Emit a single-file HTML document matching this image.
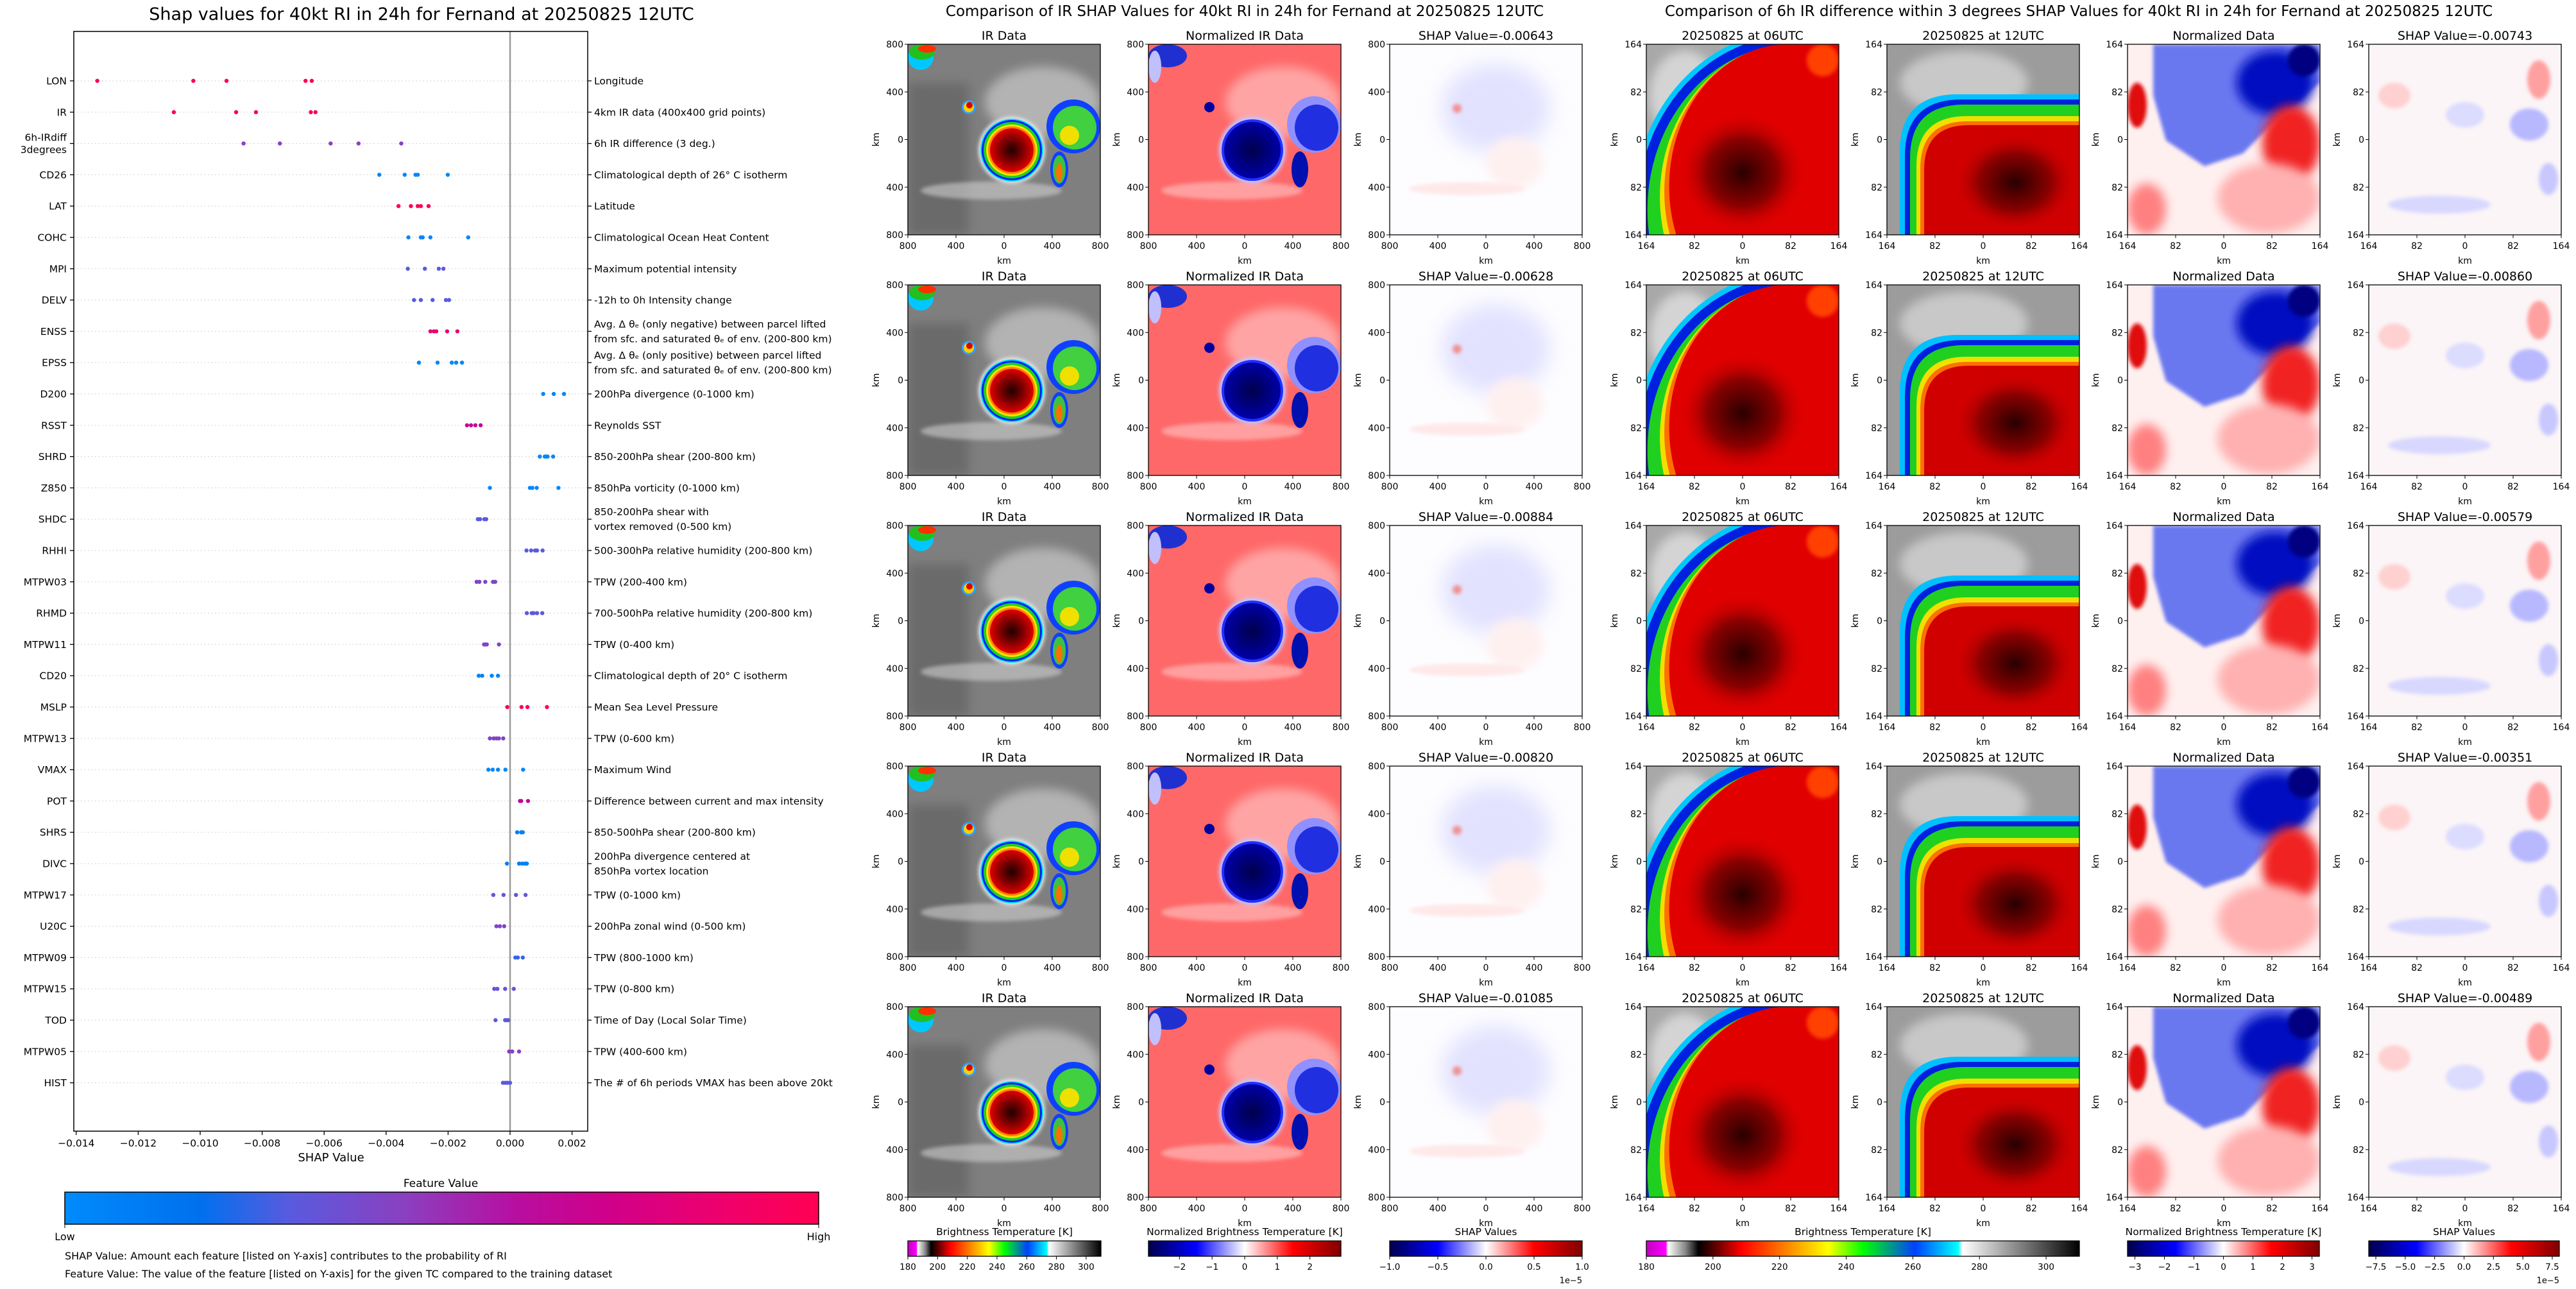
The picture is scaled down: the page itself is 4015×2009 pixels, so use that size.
<!DOCTYPE html>
<html><head><meta charset="utf-8">
<style>
html,body{margin:0;padding:0;background:#fff;width:4015px;height:2009px;overflow:hidden;}
svg{display:block;font-family:"DejaVu Sans","Liberation Sans",sans-serif;}
</style></head>
<body>
<svg id="root" width="4015" height="2009" viewBox="0 0 4015 2009" xmlns="http://www.w3.org/2000/svg">
<defs>
<filter id="b1" x="-50%" y="-50%" width="200%" height="200%"><feGaussianBlur stdDeviation="3"/></filter>
<filter id="b2" x="-50%" y="-50%" width="200%" height="200%"><feGaussianBlur stdDeviation="8"/></filter>
<filter id="b3" x="-50%" y="-50%" width="200%" height="200%"><feGaussianBlur stdDeviation="16"/></filter>
<radialGradient id="core1"><stop offset="0" stop-color="#200000"/><stop offset="0.5" stop-color="#7a0000"/><stop offset="1" stop-color="#e00000"/></radialGradient>
<radialGradient id="core2"><stop offset="0" stop-color="#00004a"/><stop offset="1" stop-color="#0000a8"/></radialGradient>
<radialGradient id="core4" cx="0.5" cy="0.5" r="0.5"><stop offset="0" stop-color="#2a0000"/><stop offset="0.55" stop-color="#8a0000"/><stop offset="1" stop-color="#e00000" stop-opacity="0"/></radialGradient>
<linearGradient id="gShap" x1="0" x2="1"><stop offset="0" stop-color="#008bfb"/><stop offset="0.18" stop-color="#0070ee"/><stop offset="0.3" stop-color="#5a5ade"/><stop offset="0.45" stop-color="#8a40c0"/><stop offset="0.6" stop-color="#b80ea0"/><stop offset="0.72" stop-color="#d0008a"/><stop offset="0.88" stop-color="#f0006a"/><stop offset="1" stop-color="#ff0052"/></linearGradient>
<linearGradient id="gIR" x1="0" x2="1"><stop offset="0" stop-color="#c000c0"/><stop offset="0.045" stop-color="#ff00ff"/><stop offset="0.05" stop-color="#ffffff"/><stop offset="0.09" stop-color="#888"/><stop offset="0.12" stop-color="#000"/><stop offset="0.16" stop-color="#600000"/><stop offset="0.22" stop-color="#ff0000"/><stop offset="0.33" stop-color="#ff8c00"/><stop offset="0.42" stop-color="#ffff00"/><stop offset="0.5" stop-color="#00ff00"/><stop offset="0.62" stop-color="#0040ff"/><stop offset="0.72" stop-color="#00ffff"/><stop offset="0.73" stop-color="#ffffff"/><stop offset="1" stop-color="#000000"/></linearGradient>
<linearGradient id="gSeis" x1="0" x2="1"><stop offset="0" stop-color="#00004c"/><stop offset="0.25" stop-color="#0000ff"/><stop offset="0.5" stop-color="#ffffff"/><stop offset="0.75" stop-color="#ff0000"/><stop offset="1" stop-color="#800000"/></linearGradient>

<symbol id="p0" viewBox="0 0 300 297">
<rect width="300" height="297" fill="#7f7f7f"/>
<rect x="0" y="60" width="95" height="237" fill="#6a6a6a" filter="url(#b2)"/>
<ellipse cx="210" cy="90" rx="90" ry="55" fill="#c0c0c0" opacity="0.8" filter="url(#b2)"/>
<ellipse cx="130" cy="228" rx="110" ry="14" fill="#cfcfcf" opacity="0.6" filter="url(#b1)"/>
<ellipse cx="20" cy="20" rx="20" ry="20" fill="#00c8ff"/><ellipse cx="22" cy="12" rx="20" ry="12" fill="#20c020"/><ellipse cx="30" cy="7" rx="14" ry="6" fill="#ff3000"/>
<circle cx="95" cy="98" r="11" fill="#30a0ff"/><circle cx="95" cy="98" r="8" fill="#ffd000"/><circle cx="96" cy="95" r="5" fill="#e00000"/>
<ellipse cx="258" cy="128" rx="42" ry="42" fill="#1040ff"/><ellipse cx="260" cy="130" rx="34" ry="34" fill="#40d040"/><ellipse cx="252" cy="142" rx="15" ry="15" fill="#f0e000"/>
<ellipse cx="236" cy="195" rx="14" ry="28" fill="#1040ff"/><ellipse cx="236" cy="195" rx="10" ry="22" fill="#40c040"/><ellipse cx="236" cy="200" rx="5" ry="14" fill="#ff7000"/>
<circle cx="162" cy="165" r="52" fill="#e6e6e6" filter="url(#b1)"/><circle cx="162" cy="165" r="49" fill="#00e0ff"/><circle cx="162" cy="165" r="47" fill="#0020ff"/><circle cx="162" cy="165" r="44" fill="#20d020"/><circle cx="162" cy="165" r="40" fill="#ffe000"/><circle cx="162" cy="165" r="37" fill="#ff8000"/><circle cx="162" cy="165" r="34" fill="url(#core1)"/>
</symbol>
<symbol id="p1" viewBox="0 0 300 297">
<rect width="300" height="297" fill="#ff6868"/>
<ellipse cx="210" cy="90" rx="90" ry="55" fill="#ffb4b4" opacity="0.8" filter="url(#b2)"/>
<ellipse cx="130" cy="228" rx="110" ry="14" fill="#ffc4c4" opacity="0.6" filter="url(#b1)"/>
<ellipse cx="30" cy="18" rx="30" ry="18" fill="#2030d0"/><ellipse cx="10" cy="35" rx="10" ry="25" fill="#c0c0ff"/>
<circle cx="95" cy="98" r="8" fill="#0000a0"/>
<ellipse cx="258" cy="125" rx="42" ry="44" fill="#9090ff"/><ellipse cx="262" cy="130" rx="34" ry="36" fill="#2030e0"/>
<ellipse cx="236" cy="195" rx="13" ry="28" fill="#0010b0"/>
<circle cx="162" cy="165" r="52" fill="#c4c4ff" filter="url(#b1)"/><circle cx="162" cy="165" r="48" fill="#2030ff"/><circle cx="162" cy="165" r="44" fill="url(#core2)"/>
</symbol>
<symbol id="p2" viewBox="0 0 300 297">
<rect width="300" height="297" fill="#fdfdff"/>
<ellipse cx="165" cy="100" rx="85" ry="70" fill="#e2e2ff" filter="url(#b3)"/>
<ellipse cx="195" cy="185" rx="45" ry="40" fill="#fff0f0" filter="url(#b2)"/>
<circle cx="105" cy="100" r="7" fill="#f09090" filter="url(#b1)"/>
<ellipse cx="120" cy="225" rx="90" ry="10" fill="#ffe8e8" filter="url(#b1)"/>
</symbol>
<symbol id="p3" viewBox="0 0 300 297">
<rect width="300" height="297" fill="#a8a8a8"/>
<ellipse cx="60" cy="80" rx="55" ry="70" fill="#d4d4d4" filter="url(#b2)"/>
<path id="e0" fill="#00c8ff"/>
<path id="e1" fill="#0020e0"/>
<path id="e2" fill="#20d020"/>
<path id="e3" fill="#f0e000"/>
<path id="e4" fill="#ff7000"/>
<path id="e5" fill="#e00000"/>
<ellipse cx="275" cy="25" rx="25" ry="25" fill="#ff4000" filter="url(#b1)"/>
<ellipse cx="150" cy="200" rx="100" ry="95" fill="url(#core4)"/>
</symbol>
<symbol id="p4" viewBox="0 0 300 297">
<rect width="300" height="297" fill="#9c9c9c"/>
<ellipse cx="120" cy="60" rx="100" ry="50" fill="#c8c8c8" filter="url(#b2)"/>
<path id="r0" fill="#00c0ff"/>
<path id="r1" fill="#0020e0"/>
<path id="r2" fill="#20d020"/>
<path id="r3" fill="#f0e000"/>
<path id="r4" fill="#ff7000"/>
<path id="r5" fill="#d00000"/>
<ellipse cx="200" cy="215" rx="100" ry="80" fill="url(#core4)"/>
</symbol>
<symbol id="p5" viewBox="0 0 300 297">
<rect width="300" height="297" fill="#fff0f0"/>
<path d="M40,0 L300,0 L300,60 L240,110 L180,170 L120,190 L60,150 L40,80 Z" fill="#6a78f0" filter="url(#b1)"/>
<ellipse cx="230" cy="60" rx="60" ry="50" fill="#0010c0" filter="url(#b2)"/>
<circle cx="275" cy="25" r="25" fill="#000080" filter="url(#b1)"/>
<ellipse cx="255" cy="155" rx="45" ry="60" fill="#f02020" filter="url(#b2)"/>
<ellipse cx="15" cy="95" rx="15" ry="35" fill="#e01010" filter="url(#b1)"/>
<ellipse cx="220" cy="240" rx="80" ry="55" fill="#ffb0b0" filter="url(#b2)"/>
<ellipse cx="30" cy="257" rx="30" ry="40" fill="#ff8080" filter="url(#b2)"/>
</symbol>
<symbol id="p6" viewBox="0 0 300 297">
<rect width="300" height="297" fill="#fbf5f7"/>
<ellipse cx="265" cy="55" rx="18" ry="30" fill="#ffa0a0" filter="url(#b1)"/>
<ellipse cx="250" cy="125" rx="30" ry="25" fill="#b8b8ff" filter="url(#b1)"/>
<ellipse cx="110" cy="250" rx="80" ry="14" fill="#d8d8ff" filter="url(#b1)"/>
<ellipse cx="40" cy="80" rx="25" ry="20" fill="#ffd0d0" filter="url(#b1)"/>
<ellipse cx="280" cy="210" rx="15" ry="25" fill="#c8c8ff" filter="url(#b1)"/>
<ellipse cx="150" cy="110" rx="30" ry="20" fill="#dcdcff" filter="url(#b1)"/>
</symbol>
</defs>
<g id="left"></g>
<g id="right"></g>
</svg>
<script>
// ---------- left SHAP chart data ----------
const featureNames = ['LON','IR','6h-IRdiff|3degrees','CD26','LAT','COHC','MPI','DELV','ENSS','EPSS','D200','RSST','SHRD','Z850','SHDC','RHHI','MTPW03','RHMD','MTPW11','CD20','MSLP','MTPW13','VMAX','POT','SHRS','DIVC','MTPW17','U20C','MTPW09','MTPW15','TOD','MTPW05','HIST'];
const featureDescriptions = ['Longitude','4km IR data (400x400 grid points)','6h IR difference (3 deg.)','Climatological depth of 26° C isotherm','Latitude','Climatological Ocean Heat Content','Maximum potential intensity','-12h to 0h Intensity change','Avg. Δ θₑ (only negative) between parcel lifted|from sfc. and saturated θₑ of env. (200-800 km)','Avg. Δ θₑ (only positive) between parcel lifted|from sfc. and saturated θₑ of env. (200-800 km)','200hPa divergence (0-1000 km)','Reynolds SST','850-200hPa shear (200-800 km)','850hPa vorticity (0-1000 km)','850-200hPa shear with|vortex removed (0-500 km)','500-300hPa relative humidity (200-800 km)','TPW (200-400 km)','700-500hPa relative humidity (200-800 km)','TPW (0-400 km)','Climatological depth of 20° C isotherm','Mean Sea Level Pressure','TPW (0-600 km)','Maximum Wind','Difference between current and max intensity','850-500hPa shear (200-800 km)','200hPa divergence centered at|850hPa vortex location','TPW (0-1000 km)','200hPa zonal wind (0-500 km)','TPW (800-1000 km)','TPW (0-800 km)','Time of Day (Local Solar Time)','TPW (400-600 km)','The # of 6h periods VMAX has been above 20kt'];
const shapValues = [
 [-0.01332,-0.01022,-0.00915,-0.0066,-0.0064],
 [-0.01085,-0.00884,-0.0082,-0.00643,-0.00628],
 [-0.0086,-0.00743,-0.00579,-0.00489,-0.00351],
 [-0.00422,-0.0034,-0.00305,-0.00298,-0.00201],
 [-0.0036,-0.0032,-0.00298,-0.00288,-0.00263],
 [-0.00328,-0.00288,-0.00282,-0.00257,-0.00135],
 [-0.0033,-0.00275,-0.0023,-0.00215],
 [-0.0031,-0.00288,-0.0025,-0.00207,-0.00197],
 [-0.00257,-0.00246,-0.00238,-0.00203,-0.0017],
 [-0.00294,-0.00234,-0.00188,-0.00174,-0.00155],
 [0.00107,0.00141,0.00174],
 [-0.00139,-0.00126,-0.00112,-0.00095],
 [0.00096,0.00112,0.00117,0.00121,0.00139],
 [-0.00065,0.00064,0.00072,0.00086,0.00156],
 [-0.00104,-0.00097,-0.00083,-0.00077],
 [0.00053,0.00068,0.00081,0.00087,0.00105],
 [-0.00108,-0.00099,-0.0008,-0.00055,-0.00048],
 [0.00054,0.0007,0.00076,0.00087,0.00104],
 [-0.00084,-0.0008,-0.00075,-0.00036],
 [-0.00101,-0.0009,-0.00059,-0.00039],
 [-0.00009,0.00037,0.00056,0.00119],
 [-0.00065,-0.00053,-0.00044,-0.00036,-0.00022],
 [-0.0007,-0.00056,-0.00039,-0.00015,0.00042],
 [0.00032,0.00036,0.00058],
 [0.00023,0.00036,0.00041],
 [-0.0001,0.00029,0.00039,0.00048,0.00054],
 [-0.00054,-0.00021,0.00019,0.0005],
 [-0.00044,-0.00033,-0.00019],
 [0.00017,0.00025,0.00041],
 [-0.00051,-0.00041,-0.00016,0.00012],
 [-0.00047,-0.00016,-0.00011,-0.00006],
 [-0.00003,0.00007,0.00029],
 [-0.00023,-0.00015,-0.00008,0]
];
const featureLevels = [1.0,0.97,0.45,0.03,0.97,0.03,0.3,0.3,0.85,0.03,0.03,0.65,0.03,0.03,0.3,0.3,0.42,0.3,0.42,0.05,1.0,0.42,0.03,0.65,0.08,0.08,0.32,0.42,0.25,0.33,0.3,0.45,0.3];
const xTickValues = [-0.014,-0.012,-0.010,-0.008,-0.006,-0.004,-0.002,0.000,0.002];
// ---------- right panel data ----------
const panelTitlesIR = ['IR Data','Normalized IR Data'];
const shapIR = ['-0.00643','-0.00628','-0.00884','-0.00820','-0.01085'];
const shapDiff = ['-0.00743','-0.00860','-0.00579','-0.00351','-0.00489'];
const cbLabels = ['Brightness Temperature [K]','Normalized Brightness Temperature [K]','SHAP Values','Brightness Temperature [K]','Normalized Brightness Temperature [K]','SHAP Values'];
const cbMin = [180,-2.95,-1,180,-3.25,-8.1];
const cbMax = [310,2.95,1,310,3.25,8.1];
const cbTicks = [[180,200,220,240,260,280,300],[-2,-1,0,1,2],[-1,-0.5,0,0.5,1],[180,200,220,240,260,280,300],[-3,-2,-1,0,1,2,3],[-7.5,-5,-2.5,0,2.5,5,7.5]];
const cbTickText = [['180','200','220','240','260','280','300'],['−2','−1','0','1','2'],['−1.0','−0.5','0.0','0.5','1.0'],['180','200','220','240','260','280','300'],['−3','−2','−1','0','1','2','3'],['−7.5','−5.0','−2.5','0.0','2.5','5.0','7.5']];

const NS='http://www.w3.org/2000/svg';
function mk(tag,attrs,parent,text){const e=document.createElementNS(NS,tag);for(const k in attrs)e.setAttribute(k,attrs[k]);if(text!==undefined)e.textContent=text;parent.appendChild(e);return e;}
function fmt(v){const s=Math.abs(v).toFixed(3);return (v<0?'−':'')+s;}

function ellipseInBox(cx,cy,rx,ry){
  const W=300,H=297;
  const xT=cx-rx*Math.sqrt(Math.max(0,1-(cy/ry)*(cy/ry)));
  if(rx>cx){
    const yL=cy-ry*Math.sqrt(1-(cx/rx)*(cx/rx));
    return 'M'+xT+',0 L'+W+',0 L'+W+','+H+' L0,'+H+' L0,'+yL+' A'+rx+' '+ry+' 0 0 1 '+xT+',0 Z';
  }
  const xB=cx-rx*Math.sqrt(1-((H-cy)/ry)*((H-cy)/ry));
  return 'M'+xT+',0 L'+W+',0 L'+W+','+H+' L'+xB+','+H+' A'+rx+' '+ry+' 0 0 1 '+xT+',0 Z';
}
[[252,282],[244,274],[228,258],[205,238],[196,230],[186,222]].forEach((r,i)=>{
  document.getElementById('e'+i).setAttribute('d',ellipseInBox(230,260,r[0],r[1]));
});
function cornerRegion(x,y,rr){
  return 'M'+x+',297 L'+x+','+(y+rr)+' Q'+x+','+y+' '+(x+rr)+','+y+' L300,'+y+' L300,297 Z';
}
[[20,78,90],[28,86,88],[36,94,84],[46,112,78],[52,120,74],[58,126,70]].forEach((r,i)=>{
  document.getElementById('r'+i).setAttribute('d',cornerRegion(r[0],r[1],r[2]));
});

const cmStops=[[0,[0,139,251]],[0.18,[0,112,238]],[0.3,[90,90,222]],[0.45,[138,64,192]],[0.6,[184,14,160]],[0.72,[208,0,138]],[0.88,[240,0,106]],[1,[255,0,82]]];
function cmap(t){for(let i=1;i<cmStops.length;i++){if(t<=cmStops[i][0]){const a=cmStops[i-1],b=cmStops[i];const f=(t-a[0])/(b[0]-a[0]);const c=a[1].map((x,j)=>Math.round(x+(b[1][j]-x)*f));return 'rgb('+c.join(',')+')';}}return 'rgb(255,0,82)';}

// ---------- left chart ----------
const L=document.getElementById('left');
const AX0=115,AX1=916,AY0=49,AY1=1763;
function xPix(v){return 795+v*48300;}
function yPix(i){return 126+i*48.8;}
let t=mk('text',{x:657,y:31,'font-size':27,'text-anchor':'middle',fill:'#000'},L,'Shap values for 40kt RI in 24h for Fernand at 20250825 12UTC');


featureNames.forEach((nm,i)=>{
  const y=yPix(i);
  const g=mk('line',{x1:AX0,x2:AX1,y1:y,y2:y,stroke:'#cfcfcf','stroke-width':1.2,'stroke-dasharray':'1.5,4'},L);
  
  
  mk('line',{x1:AX0-6,x2:AX0,y1:y,y2:y,stroke:'#000','stroke-width':1.3},L);
  mk('line',{x1:AX1,x2:AX1+6,y1:y,y2:y,stroke:'#000','stroke-width':1.3},L);
  const parts=nm.split('|');
  const lt=mk('text',{x:104,y:parts.length>1?y-4:y+5.5,'font-size':15.5,'text-anchor':'end',fill:'#000'},L);
  
  
  parts.forEach((p,k)=>{mk('tspan',{x:104,dy:k?19:0},lt,p);});
  const dp=featureDescriptions[i].split('|');
  const rt=mk('text',{x:926,y:dp.length>1?y-6:y+5.5,'font-size':15.5,fill:'#000'},L);
  
  
  dp.forEach((p,k)=>{mk('tspan',{x:926,dy:k?23:0},rt,p);});
});
const zl=mk('line',{x1:xPix(0),x2:xPix(0),y1:AY0,y2:AY1,stroke:'#999','stroke-width':2.5},L);


shapValues.forEach((row,i)=>{
  row.forEach(v=>{
    const c=mk('ellipse',{cx:xPix(v),cy:yPix(i),rx:3.2,ry:3.2,fill:cmap(featureLevels[i])},L);
    
    
  });
});
const box=mk('rect',{x:AX0,y:AY0,width:AX1-AX0,height:AY1-AY0,fill:'none',stroke:'#000','stroke-width':1.5},L);


xTickValues.forEach(v=>{
  const x=xPix(v);
  mk('line',{x1:x,x2:x,y1:AY1,y2:AY1+6,stroke:'#000','stroke-width':1.3},L);
  const tt=mk('text',{x:x,y:1787,'font-size':15.5,'text-anchor':'middle',fill:'#000'},L,fmt(v));
  
  
});
t=mk('text',{x:516,y:1810,'font-size':18,'text-anchor':'middle',fill:'#000'},L,'SHAP Value');


t=mk('text',{x:687,y:1850,'font-size':17,'text-anchor':'middle',fill:'#000'},L,'Feature Value');


t=mk('rect',{x:101,y:1858,width:1175,height:50,fill:'url(#gShap)',stroke:'#000','stroke-width':1.5},L);


mk('line',{x1:101,x2:101,y1:1908,y2:1914,stroke:'#000'},L);
mk('line',{x1:1276,x2:1276,y1:1908,y2:1914,stroke:'#000'},L);
t=mk('text',{x:101,y:1933,'font-size':16,'text-anchor':'middle'},L,'Low');


t=mk('text',{x:1276,y:1933,'font-size':16,'text-anchor':'middle'},L,'High');


t=mk('text',{x:101,y:1963,'font-size':16},L,'SHAP Value: Amount each feature [listed on Y-axis] contributes to the probability of RI');


t=mk('text',{x:101,y:1991,'font-size':16},L,'Feature Value: The value of the feature [listed on Y-axis] for the given TC compared to the training dataset');



// ---------- right panels ----------
const R=document.getElementById('right');
const colX=[1415,1790,2166,2566,2941,3316,3692];
const PW=300,PH=297;
t=mk('text',{x:1940,y:25,'font-size':23,'text-anchor':'middle'},R,'Comparison of IR SHAP Values for 40kt RI in 24h for Fernand at 20250825 12UTC');


t=mk('text',{x:3240,y:25,'font-size':23,'text-anchor':'middle'},R,'Comparison of 6h IR difference within 3 degrees SHAP Values for 40kt RI in 24h for Fernand at 20250825 12UTC');


const colNames=['ir-data','normalized-ir','ir-shap','ir-06utc','ir-12utc','normalized-diff','diff-shap'];
for(let r=0;r<5;r++){
  const y0=69+375*r;
  for(let c=0;c<7;c++){
    const x0=colX[c];
    let title;
    if(c<2)title=panelTitlesIR[c];
    else if(c===2)title='SHAP Value='+shapIR[r];
    else if(c===3)title='20250825 at 06UTC';
    else if(c===4)title='20250825 at 12UTC';
    else if(c===5)title='Normalized Data';
    else title='SHAP Value='+shapDiff[r];
    const tt=mk('text',{x:x0+PW/2,y:y0-7,'font-size':19,'text-anchor':'middle'},R,title);
    
    
    const u=mk('use',{href:'#p'+c,x:x0,y:y0,width:PW,height:PH},R);
    
    
    const fr=mk('rect',{x:x0,y:y0,width:PW,height:PH,fill:'none',stroke:'#000','stroke-width':1.3},R);
    
    
    const labs=c<3?['800','400','0','400','800']:['164','82','0','82','164'];
    [0,0.25,0.5,0.75,1].forEach((f,k)=>{
      const yy=y0+f*PH, xx=x0+f*PW;
      mk('line',{x1:x0-5,x2:x0,y1:yy,y2:yy,stroke:'#000'},R);
      mk('text',{x:x0-7,y:yy+5,'font-size':14,'text-anchor':'end'},R,labs[k]);
      mk('line',{x1:xx,x2:xx,y1:y0+PH,y2:y0+PH+5,stroke:'#000'},R);
      mk('text',{x:xx,y:y0+PH+22,'font-size':14,'text-anchor':'middle'},R,labs[k]);
    });
    mk('text',{x:x0+PW/2,y:y0+PH+45,'font-size':14,'text-anchor':'middle'},R,'km');
    mk('text',{x:0,y:0,'font-size':14,'text-anchor':'middle',transform:'translate('+(x0-45)+','+(y0+PH/2)+') rotate(-90)'},R,'km');
  }
}
const cbX=[1415,1790,2166,2566,3316,3692];
const cbW=[301,300,300,675,299,297];
const cbFill=['url(#gIR)','url(#gSeis)','url(#gSeis)','url(#gIR)','url(#gSeis)','url(#gSeis)'];
cbX.forEach((x,i)=>{
  const y=1934,h=24;
  const lab=mk('text',{x:x+cbW[i]/2,y:1925,'font-size':15.5,'text-anchor':'middle'},R,cbLabels[i]);
  
  
  const rc=mk('rect',{x:x,y:y,width:cbW[i],height:h,fill:cbFill[i],stroke:'#000','stroke-width':1.3},R);
  
  
  cbTicks[i].forEach((v,k)=>{
    const xx=x+(v-cbMin[i])/(cbMax[i]-cbMin[i])*cbW[i];
    mk('line',{x1:xx,x2:xx,y1:y+h,y2:y+h+5,stroke:'#000'},R);
    mk('text',{x:xx,y:1979,'font-size':13.5,'text-anchor':'middle'},R,cbTickText[i][k]);
  });
});
mk('text',{x:2466,y:2000,'font-size':13,'text-anchor':'end'},R,'1e−5');
mk('text',{x:3989,y:2000,'font-size':13,'text-anchor':'end'},R,'1e−5');
</script>
</body></html>
